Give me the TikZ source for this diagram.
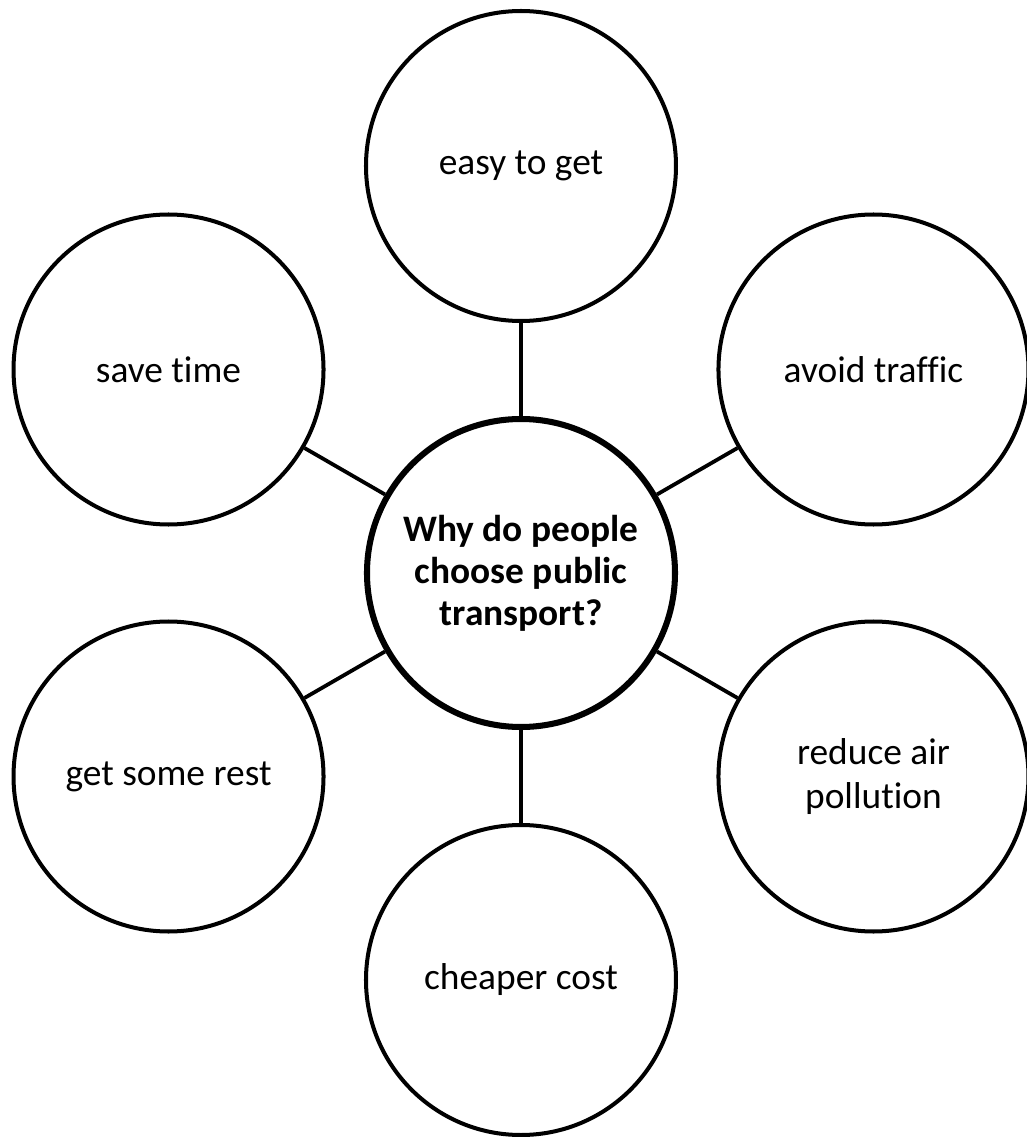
\documentclass[tikz,border=0pt]{standalone}
\usepackage{fontspec}
\setmainfont{Carlito}[Ligatures=NoCommon]
\usetikzlibrary{positioning}

\begin{document}
\begin{tikzpicture}[
        idea/.style={circle, draw=black, line width=2.85pt, minimum size=7.75cm, inner sep=0pt, align=center, font=\fontsize{26.6pt}{31pt}\selectfont},
        hub/.style={idea, line width=4.3pt, minimum size=7.7cm, font=\bfseries\fontsize{26.6pt}{30pt}\selectfont},
        link/.style={draw=black, line width=2.7pt}]
    \useasboundingbox (-13.025, -14.1) rectangle (12.65, 14.325);

    \node[hub] (hub) at (0, 0) {Why do people\\choose public\\transport?};
    \node[idea] (easy) at (0, 10.175) {easy to get};
    \node[idea] (traffic) at (8.812, 5.0875) {avoid traffic};
    \node[idea] (pollution) at (8.812, -5.0875) {reduce air\\pollution};
    \node[idea] (cost) at (0, -10.175) {cheaper cost};
    \node[idea] (rest) at (-8.812, -5.0875) {get some rest};
    \node[idea] (time) at (-8.812, 5.0875) {save time};

    \draw[link] (hub) -- (easy);
    \draw[link] (hub) -- (traffic);
    \draw[link] (hub) -- (pollution);
    \draw[link] (hub) -- (cost);
    \draw[link] (hub) -- (rest);
    \draw[link] (hub) -- (time);
\end{tikzpicture}
\end{document}
